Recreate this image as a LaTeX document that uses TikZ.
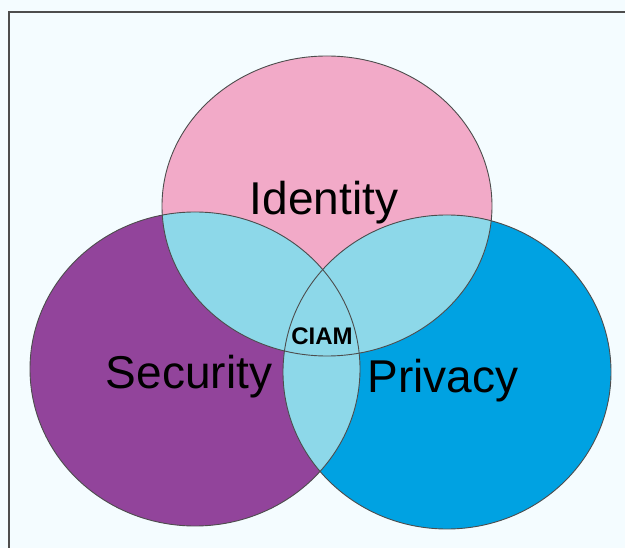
\documentclass[tikz,border=0pt]{standalone}
\usepackage{fontspec}
\setmainfont{Liberation Sans}
\definecolor{identitypink}{HTML}{F2AAC8}
\definecolor{securitypurple}{HTML}{92449B}
\definecolor{privacyblue}{HTML}{00A2E2}
\definecolor{overlapblue}{HTML}{8DD8E9}
\definecolor{paper}{HTML}{F4FCFF}
\definecolor{edgegray}{HTML}{4D4D4D}

\begin{document}
\begin{tikzpicture}[x=1pt, y=-1pt,
  setedge/.style={draw=edgegray, line width=0.9pt},
  setname/.style={font=\fontsize{46}{50}\selectfont, anchor=base}]
\useasboundingbox (0,0) rectangle (625,548);
\fill[paper] (0,0) rectangle (625,548);

% Frame (runs off at right and bottom)
\draw[edgegray, line width=2pt] (9,548) -- (9,12) -- (625,12);

% Sets
\fill[identitypink] (327,206) ellipse [x radius=165pt, y radius=150pt];
\fill[securitypurple] (195,369) ellipse [x radius=165pt, y radius=157pt];
\fill[privacyblue] (447,372) ellipse [x radius=164pt, y radius=157pt];

% Overlaps
\begin{scope}
  \clip (327,206) ellipse [x radius=165pt, y radius=150pt];
  \fill[overlapblue] (195,369) ellipse [x radius=165pt, y radius=157pt];
  \fill[overlapblue] (447,372) ellipse [x radius=164pt, y radius=157pt];
\end{scope}
\begin{scope}
  \clip (195,369) ellipse [x radius=165pt, y radius=157pt];
  \fill[overlapblue] (447,372) ellipse [x radius=164pt, y radius=157pt];
\end{scope}

% Outlines
\draw[setedge] (327,206) ellipse [x radius=165pt, y radius=150pt];
\draw[setedge] (195,369) ellipse [x radius=165pt, y radius=157pt];
\draw[setedge] (447,372) ellipse [x radius=164pt, y radius=157pt];

% Names
\node[setname] (identity) at (324,215) {Identity};
\node[setname] (security) at (189,389) {Security};
\node[setname] (privacy) at (443,393) {Privacy};
\node[font=\bfseries\fontsize{24}{26}\selectfont, anchor=base] (ciam) at (322,345) {CIAM};

\end{tikzpicture}
\end{document}
